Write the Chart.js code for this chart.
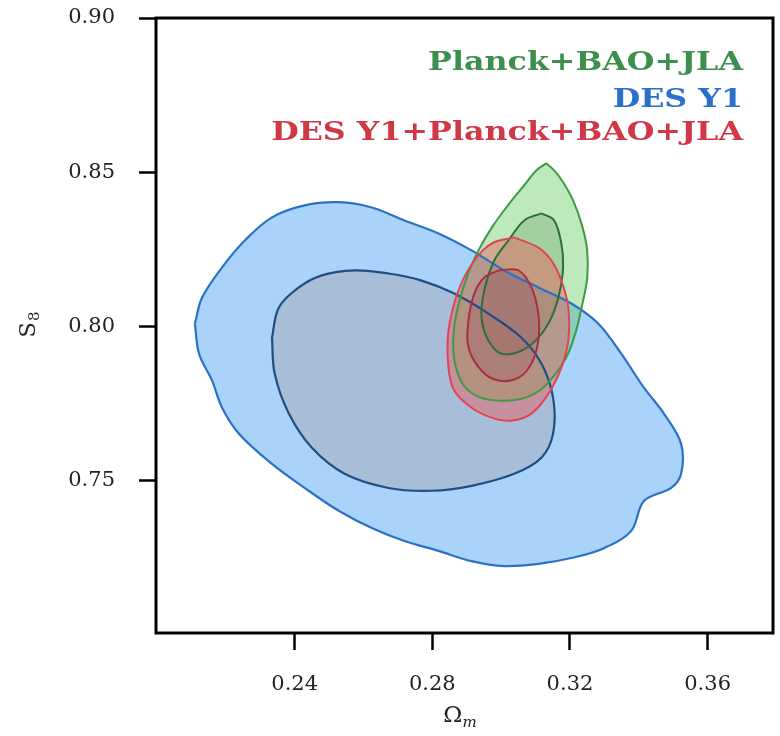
<!DOCTYPE html>
<html><head><meta charset="utf-8">
<script src="https://cdn.jsdelivr.net/npm/chart.js@4.4.1/dist/chart.umd.min.js"></script>
<style>html,body{margin:0;padding:0;background:#fff}#wrap{width:780px;height:736px;position:relative}</style>
</head><body><div id="wrap"><canvas id="c"></canvas></div>
<script>
// ---- data ----
const xTickValues = [0.24, 0.28, 0.32, 0.36];
const xTickLabels = ['0.24', '0.28', '0.32', '0.36'];
const yTickValues = [0.75, 0.80, 0.85, 0.90];
const yTickLabels = ['0.75', '0.80', '0.85', '0.90'];
const xRange = [0.1997, 0.379];
const yRange = [0.7007, 0.90];
const seriesNames = ['Planck+BAO+JLA', 'DES Y1', 'DES Y1+Planck+BAO+JLA'];
const xTitle = ['Ω', 'm'];
const yTitle = ['S', '8'];

// DES Y1 contours [Omega_m, S8]
const desY1_95 = [[0.2110,0.8010],[0.2131,0.8094],[0.2189,0.8192],[0.2255,0.8279],[0.2334,0.8354],[0.2429,0.8393],[0.2528,0.8403],[0.2624,0.8386],[0.2719,0.8344],[0.2818,0.8302],[0.2914,0.8247],[0.3009,0.8182],[0.3108,0.8127],[0.3204,0.8075],[0.3282,0.8010],[0.3349,0.7912],[0.3415,0.7802],[0.3473,0.7718],[0.3523,0.7620],[0.3523,0.7523],[0.3494,0.7477],[0.3415,0.7435],[0.3378,0.7338],[0.3299,0.7282],[0.3204,0.7250],[0.3108,0.7231],[0.3009,0.7224],[0.2914,0.7240],[0.2818,0.7273],[0.2719,0.7305],[0.2624,0.7347],[0.2528,0.7403],[0.2429,0.7477],[0.2334,0.7555],[0.2238,0.7653],[0.2189,0.7737],[0.2160,0.7825],[0.2122,0.7912],[0.2110,0.8010]];
const desY1_68 = [[0.2334,0.7964],[0.2354,0.8062],[0.2412,0.8127],[0.2479,0.8166],[0.2574,0.8182],[0.2673,0.8172],[0.2769,0.8149],[0.2864,0.8107],[0.2963,0.8042],[0.3059,0.7964],[0.3117,0.7880],[0.3151,0.7769],[0.3151,0.7653],[0.3117,0.7575],[0.3038,0.7523],[0.2914,0.7484],[0.2798,0.7468],[0.2673,0.7477],[0.2545,0.7523],[0.2450,0.7607],[0.2383,0.7718],[0.2342,0.7847],[0.2334,0.7964]];
// Planck+BAO+JLA contours
const planck_95 = [[0.3131,0.8529],[0.3154,0.8506],[0.3180,0.8468],[0.3209,0.8409],[0.3235,0.8328],[0.3250,0.8247],[0.3250,0.8156],[0.3235,0.8068],[0.3218,0.7987],[0.3192,0.7906],[0.3154,0.7841],[0.3111,0.7792],[0.3059,0.7766],[0.3001,0.7760],[0.2943,0.7769],[0.2899,0.7799],[0.2873,0.7851],[0.2861,0.7922],[0.2864,0.8003],[0.2879,0.8084],[0.2902,0.8166],[0.2934,0.8247],[0.2977,0.8328],[0.3024,0.8399],[0.3067,0.8458],[0.3102,0.8506],[0.3131,0.8529]];
const planck_68 = [[0.3117,0.8367],[0.3154,0.8344],[0.3175,0.8269],[0.3180,0.8192],[0.3169,0.8107],[0.3146,0.8029],[0.3108,0.7964],[0.3059,0.7922],[0.3001,0.7912],[0.2963,0.7955],[0.2943,0.8029],[0.2951,0.8117],[0.2980,0.8214],[0.3021,0.8279],[0.3067,0.8344],[0.3117,0.8367]];
// DES Y1+Planck+BAO+JLA contours
const comb_95 = [[0.3038,0.8289],[0.3108,0.8256],[0.3146,0.8214],[0.3175,0.8149],[0.3195,0.8062],[0.3195,0.7955],[0.3175,0.7867],[0.3137,0.7782],[0.3088,0.7718],[0.3030,0.7695],[0.2972,0.7705],[0.2914,0.7737],[0.2864,0.7792],[0.2847,0.7867],[0.2847,0.7987],[0.2876,0.8117],[0.2922,0.8214],[0.2972,0.8269],[0.3038,0.8289]];
const comb_68 = [[0.2992,0.8182],[0.3050,0.8182],[0.3088,0.8127],[0.3108,0.8042],[0.3108,0.7955],[0.3088,0.7880],[0.3050,0.7834],[0.2992,0.7825],[0.2943,0.7857],[0.2905,0.7932],[0.2905,0.8019],[0.2922,0.8107],[0.2951,0.8159],[0.2992,0.8182]];

// ---- styles ----
const textColors = ['#3d8f4e', '#2a6fc9', '#d03848'];
const toPts = a => a.map(p => ({x: p[0], y: p[1]}));
function ds(data, line, fill, w) {
  return {data: toPts(data), showLine: true, fill: 'shape', borderColor: line, backgroundColor: fill,
          borderWidth: w, pointRadius: 0, tension: 0.35};
}
// index 0 drawn last (on top); blue has highest index -> drawn first
const datasets = [
  ds(comb_68, '#a83040', 'rgba(150,50,90,0.22)', 2),
  ds(comb_95, '#e04455', 'rgba(240,80,80,0.42)', 2),
  ds(planck_68, '#2c6e3a', 'rgba(70,120,60,0.22)', 2),
  ds(planck_95, '#3f9a45', 'rgba(90,200,90,0.40)', 2),
  ds(desY1_68, '#1f4e85', 'rgba(168,190,216,1)', 2.2),
  ds(desY1_95, '#2a72c4', 'rgba(170,211,250,1)', 2.2)
];

const overlay = {
  id: 'overlay',
  afterDraw(chart) {
    const {ctx, chartArea: a} = chart;
    ctx.save();
    ctx.strokeStyle = '#000'; ctx.lineWidth = 3;
    ctx.strokeRect(a.left, a.top, a.right - a.left, a.bottom - a.top);
    // legend text
    const base = [70, 107, 140];
    ctx.font = 'bold 26px "DejaVu Serif"';
    ctx.textAlign = 'right'; ctx.textBaseline = 'alphabetic';
    seriesNames.forEach((t, i) => {
      ctx.save(); ctx.translate(743, base[i]); ctx.scale(1.22, 1);
      ctx.fillStyle = textColors[i]; ctx.fillText(t, 0, 0); ctx.restore();
    });
    ctx.fillStyle = '#222'; ctx.textAlign = 'left'; ctx.textBaseline = 'middle';
    // y title
    ctx.save(); ctx.translate(29, 325); ctx.rotate(-Math.PI / 2);
    ctx.font = '23px "DejaVu Serif"'; const w1 = ctx.measureText(yTitle[0]).width;
    ctx.font = '15px "DejaVu Serif"'; const w2 = ctx.measureText(yTitle[1]).width;
    let s = -(w1 + w2) / 2;
    ctx.font = '23px "DejaVu Serif"'; ctx.fillText(yTitle[0], s, 0);
    ctx.font = '15px "DejaVu Serif"'; ctx.fillText(yTitle[1], s + w1 + 1, 6);
    ctx.restore();
    // x title
    ctx.save(); ctx.translate(460, 716);
    ctx.font = '23px "DejaVu Serif"'; const v1 = ctx.measureText(xTitle[0]).width;
    ctx.font = 'italic 15px "DejaVu Serif"'; const v2 = ctx.measureText(xTitle[1]).width;
    s = -(v1 + v2) / 2;
    ctx.font = '23px "DejaVu Serif"'; ctx.fillText(xTitle[0], s, 0);
    ctx.font = 'italic 15px "DejaVu Serif"'; ctx.fillText(xTitle[1], s + v1, 7);
    ctx.restore();
    ctx.restore();
  }
};

const tickFont = {family: '"DejaVu Serif"', size: 21};
const noPad = sc => { sc.paddingTop = 0; sc.paddingBottom = 0; sc.paddingLeft = 0; sc.paddingRight = 0; };
new Chart(document.getElementById('c'), {
  type: 'scatter',
  data: {datasets},
  options: {
    responsive: true, maintainAspectRatio: false, animation: false,
    layout: {padding: {top: 18, right: 7, left: 0, bottom: 0}},
    plugins: {legend: {display: false}, tooltip: {enabled: false}, filler: {drawTime: 'beforeDatasetsDraw'}},
    scales: {
      x: {
        type: 'linear', min: xRange[0], max: xRange[1],
        afterBuildTicks: sc => { sc.ticks = xTickValues.map(v => ({value: v})); },
        afterFit: sc => { sc.height = 103; noPad(sc); },
        ticks: {font: tickFont, color: '#222', padding: 22, maxRotation: 0,
                callback: (v) => xTickLabels[xTickValues.findIndex(t => Math.abs(t - v) < 1e-6)]},
        grid: {display: true, drawOnChartArea: false, drawTicks: true, tickLength: 17, tickWidth: 2.5, tickColor: '#000'},
        border: {display: false}
      },
      y: {
        type: 'linear', min: yRange[0], max: yRange[1],
        afterBuildTicks: sc => { sc.ticks = yTickValues.map(v => ({value: v})); },
        afterFit: sc => { sc.width = 156; noPad(sc); },
        ticks: {font: tickFont, color: '#222', padding: 24,
                callback: (v) => yTickLabels[yTickValues.findIndex(t => Math.abs(t - v) < 1e-6)]},
        grid: {display: true, drawOnChartArea: false, drawTicks: true, tickLength: 17, tickWidth: 2.5, tickColor: '#000'},
        border: {display: false}
      }
    }
  },
  plugins: [overlay]
});
</script></body></html>
